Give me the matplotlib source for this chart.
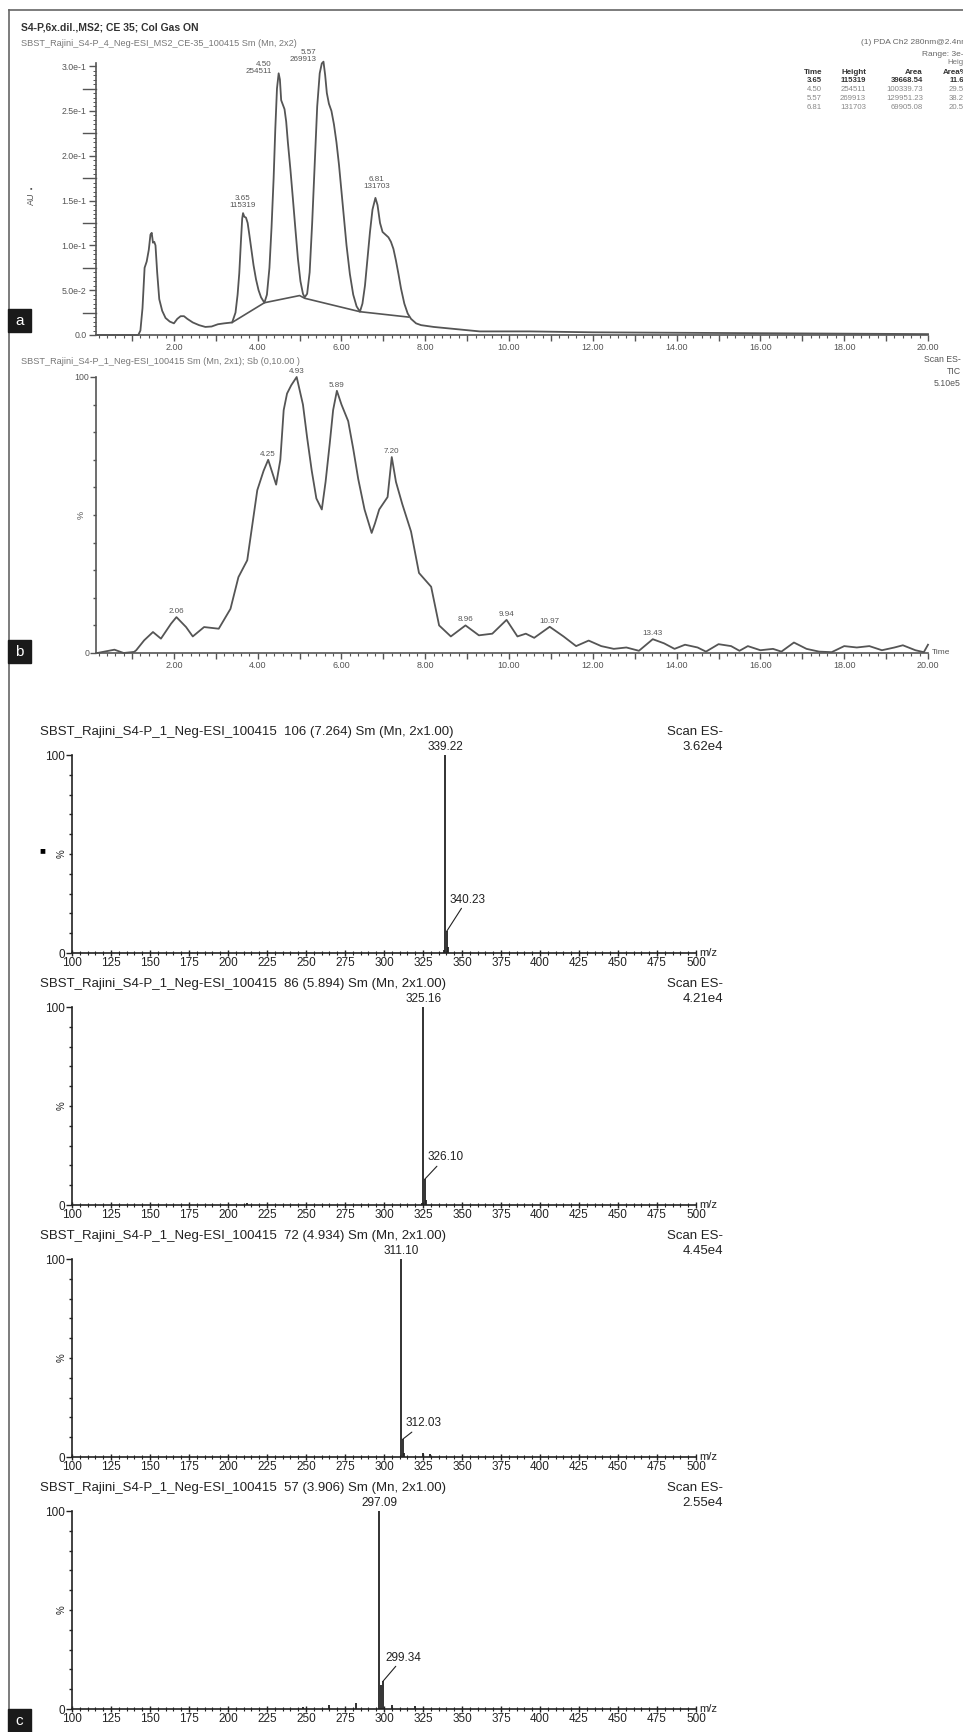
import numpy as np
import matplotlib
matplotlib.use('Agg')
import matplotlib.pyplot as plt
from matplotlib.ticker import MultipleLocator, FixedLocator, FuncFormatter
from matplotlib.patches import Rectangle
from matplotlib.lines import Line2D

plt.rcParams['font.family'] = ['Liberation Sans', 'DejaVu Sans']

# ---------------- data ----------------
# Panel a: PDA chromatogram (AU vs time, min)
time_a = [0.14, 1.15, 1.20, 1.25, 1.30, 1.35, 1.40, 1.44, 1.47, 1.50, 1.53, 1.56, 1.60, 1.65, 1.72,
          1.80, 1.90, 2.00, 2.08, 2.16, 2.24, 2.32, 2.45, 2.60, 2.75, 2.90, 3.05, 3.20, 3.39,
          3.47, 3.52, 3.56, 3.60, 3.63, 3.65, 3.68, 3.72, 3.76, 3.80, 3.85, 3.90, 3.96, 4.02, 4.08,
          4.16, 4.22, 4.28, 4.33, 4.38, 4.42, 4.46, 4.50, 4.53, 4.56, 4.60, 4.64, 4.68, 4.72, 4.78,
          4.84, 4.90, 4.96, 5.02, 5.08, 5.12, 5.18, 5.24, 5.30, 5.36, 5.42, 5.48, 5.53, 5.57, 5.61,
          5.65, 5.70, 5.76, 5.82, 5.88, 5.94, 6.00, 6.06, 6.12, 6.20, 6.28, 6.36, 6.44, 6.50, 6.56,
          6.62, 6.68, 6.74, 6.81, 6.86, 6.92, 6.98, 7.05, 7.12, 7.18, 7.24, 7.30, 7.36, 7.42, 7.50,
          7.58, 7.66, 7.78, 7.90, 8.20, 9.30, 10.5, 12.0, 14.0, 16.0, 18.0, 20.0]
au_a = [0.0, 0.0, 0.005, 0.030, 0.075, 0.082, 0.095, 0.112, 0.114, 0.103, 0.104, 0.100, 0.070, 0.040, 0.027,
        0.019, 0.015, 0.013, 0.018, 0.021, 0.021, 0.018, 0.014, 0.011, 0.009, 0.0095, 0.012, 0.013, 0.014,
        0.025, 0.045, 0.069, 0.105, 0.130, 0.136, 0.132, 0.131, 0.125, 0.112, 0.095, 0.078, 0.062, 0.050, 0.042,
        0.036, 0.045, 0.075, 0.120, 0.175, 0.230, 0.275, 0.292, 0.285, 0.262, 0.257, 0.252, 0.238, 0.215, 0.185,
        0.152, 0.118, 0.085, 0.060, 0.046, 0.042, 0.046, 0.070, 0.125, 0.190, 0.255, 0.292, 0.303, 0.305, 0.290,
        0.270, 0.258, 0.250, 0.235, 0.215, 0.190, 0.160, 0.130, 0.100, 0.068, 0.045, 0.032, 0.026, 0.035, 0.055,
        0.085, 0.115, 0.140, 0.153, 0.145, 0.125, 0.115, 0.112, 0.109, 0.104, 0.096, 0.083, 0.068, 0.052, 0.035,
        0.024, 0.018, 0.013, 0.011, 0.009, 0.004, 0.004, 0.003, 0.0025, 0.002, 0.0015, 0.001]
base_t = [3.39, 4.16, 5.00, 5.12, 6.44, 7.60]
base_au = [0.014, 0.036, 0.044, 0.041, 0.026, 0.020]
peaks_a_time = [3.65, 4.50, 5.57, 6.81]
peaks_a_height = [115319, 254511, 269913, 131703]
peaks_a_area = ['39668.54', '100339.73', '129951.23', '69905.08']
peaks_a_pct = ['11.67', '29.52', '38.24', '20.57']
peaks_a_top = [0.136, 0.292, 0.305, 0.153]

# Panel b: TIC (% vs time)
time_b = [0.17, 0.58, 0.80, 1.05, 1.10, 1.29, 1.50, 1.69, 1.93, 2.06, 2.29, 2.45, 2.72, 3.07,
          3.35, 3.54, 3.75, 3.99, 4.14, 4.25, 4.44, 4.54, 4.62, 4.70, 4.80, 4.93, 5.08, 5.18, 5.29,
          5.40, 5.53, 5.62, 5.72, 5.80, 5.89, 6.00, 6.16, 6.28, 6.40, 6.55, 6.72, 6.80, 6.90, 7.10,
          7.20, 7.30, 7.45, 7.66, 7.85, 8.14, 8.33, 8.61, 8.96,
          9.28, 9.60, 9.94, 10.2, 10.4, 10.6, 10.97, 11.3, 11.6, 11.9, 12.2, 12.5, 12.8, 13.1,
          13.43, 13.7, 13.95, 14.2, 14.5, 14.7, 15.0, 15.3, 15.5, 15.7, 16.0, 16.3, 16.5, 16.8,
          17.1, 17.4, 17.7, 18.0, 18.3, 18.6, 18.9, 19.2, 19.4, 19.7, 19.9, 20.0]
pct_b = [0.0, 1.2, 0.0, 0.4, 1.0, 4.6, 7.6, 5.2, 10.6, 13.0, 9.4, 6.0, 9.4, 8.8,
         16.0, 27.5, 33.6, 59.0, 66.0, 70.0, 61.0, 70.0, 88.0, 94.0, 97.0, 100.0, 90.0, 78.0, 66.0,
         56.0, 52.0, 62.0, 76.0, 88.0, 95.0, 90.0, 84.0, 74.0, 63.0, 52.0, 43.5, 47.0, 52.0, 56.5,
         71.0, 62.0, 54.0, 44.0, 29.0, 24.0, 10.0, 6.0, 10.0,
         6.4, 7.0, 12.0, 6.0, 7.0, 5.5, 9.5, 6.0, 2.5, 4.5, 2.5, 1.5, 2.0, 0.8,
         5.0, 3.5, 1.5, 3.0, 2.0, 0.5, 3.2, 2.5, 0.8, 2.5, 1.0, 1.5, 0.5, 3.8,
         1.5, 0.5, 0.3, 2.5, 2.0, 2.5, 1.0, 2.0, 2.8, 1.0, 0.3, 3.0]
peaks_b_time = [2.06, 4.25, 4.93, 5.89, 7.20, 8.96, 9.94, 10.97, 13.43]
peaks_b_pct = [13.0, 70.0, 100.0, 95.0, 71.0, 10.0, 12.0, 9.5, 5.0]

# Panel c: mass spectra
spec_titles = ['SBST_Rajini_S4-P_1_Neg-ESI_100415  106 (7.264) Sm (Mn, 2x1.00)',
               'SBST_Rajini_S4-P_1_Neg-ESI_100415  86 (5.894) Sm (Mn, 2x1.00)',
               'SBST_Rajini_S4-P_1_Neg-ESI_100415  72 (4.934) Sm (Mn, 2x1.00)',
               'SBST_Rajini_S4-P_1_Neg-ESI_100415  57 (3.906) Sm (Mn, 2x1.00)']
spec_scale = ['3.62e4', '4.21e4', '4.45e4', '2.55e4']
spec1_mz = [339.22, 340.23, 341.20, 338.30]
spec1_int = [100, 11, 3, 1.5]
spec2_mz = [325.16, 326.10, 327.10, 212.00, 324.20]
spec2_int = [100, 13, 2.5, 1.2, 1.0]
spec3_mz = [311.10, 312.03, 313.00, 325.00, 329.50]
spec3_int = [100, 9, 2, 2, 1.5]
spec4_mz = [297.09, 299.34, 298.20, 265.00, 282.00, 305.00, 320.00, 248.00]
spec4_int = [100, 14, 12, 2, 3, 2, 1.5, 1]
spec_base_label = ['339.22', '325.16', '311.10', '297.09']
spec_iso_label = ['340.23', '326.10', '312.03', '299.34']
spec_iso_label_pct = [27, 24, 17, 26]

# ---------------- figure ----------------
W, H = 963, 1732
fig = plt.figure(figsize=(W / 100, H / 100), dpi=100)
GRAY = '#555555'
DARK = '#222222'


def add_ax(l, t, r, b):
    return fig.add_axes([l / W, 1 - b / H, (r - l) / W, (b - t) / H])


def ftext(x, y, s, **kw):
    return fig.text(x / W, 1 - y / H, s, **kw)


def label_box(x, y, s):
    fig.patches.append(Rectangle((x / W, 1 - (y + 23) / H), 23 / W, 23 / H,
                                 transform=fig.transFigure, color='#1a1a1a', zorder=5))
    ftext(x + 11.5, y + 12, s, ha='center', va='center', color='white', fontsize=11, zorder=6)


# outer frame (left + top)
fig.add_artist(Line2D([9 / W, 9 / W], [0, 1 - 10 / H], color='#666666', lw=1.2, transform=fig.transFigure))
fig.add_artist(Line2D([9 / W, 1], [1 - 10 / H, 1 - 10 / H], color='#666666', lw=1.2, transform=fig.transFigure))


def style_time_axis(ax, color):
    for s in ['top', 'right']:
        ax.spines[s].set_visible(False)
    for s in ['left', 'bottom']:
        ax.spines[s].set_color(color)
        ax.spines[s].set_linewidth(1.2)
    ax.set_xlim(0.14, 20.0)
    ax.xaxis.set_major_locator(MultipleLocator(1.0))
    ax.xaxis.set_minor_locator(MultipleLocator(0.2))
    ax.xaxis.set_major_formatter(FuncFormatter(lambda v, p: ('%.2f' % v) if (round(v) % 2 == 0 and v > 1) else ''))
    ax.tick_params(axis='x', which='major', length=4, width=1.0, color=color, labelsize=6.5,
                   labelcolor=GRAY, pad=2)
    ax.tick_params(axis='x', which='minor', length=2, width=0.8, color=color)
    ax.set_facecolor('none')


# ---------------- panel a ----------------
ftext(21, 27, 'S4-P,6x.dil.,MS2; CE 35; Col Gas ON', fontsize=7.5, fontweight='bold', color='#333333', va='center')
ftext(21, 43, 'SBST_Rajini_S4-P_4_Neg-ESI_MS2_CE-35_100415 Sm (Mn, 2x2)', fontsize=6.6, color='#777777', va='center')

ax_a = add_ax(96, 63, 928, 335)
style_time_axis(ax_a, GRAY)
ax_a.set_ylim(0, 0.3035)
ax_a.plot(time_a, au_a, color=GRAY, lw=1.3, clip_on=False)
ax_a.plot(base_t, base_au, color=GRAY, lw=1.2, clip_on=False)
ax_a.yaxis.set_major_locator(FixedLocator([0, 0.05, 0.1, 0.15, 0.2, 0.25, 0.3]))
ax_a.set_yticklabels(['0.0', '5.0e-2', '1.0e-1', '1.5e-1', '2.0e-1', '2.5e-1', '3.0e-1'])
ax_a.yaxis.set_minor_locator(MultipleLocator(0.005))
ax_a.tick_params(axis='y', which='major', length=5, width=1.0, color=GRAY, labelsize=6.3,
                 labelcolor=GRAY, pad=2)
ax_a.tick_params(axis='y', which='minor', length=2, width=0.7, color=GRAY)
for yv in [0.025, 0.075, 0.125, 0.175, 0.225, 0.275]:
    ax_a.plot([-0.18, 0.14], [yv, yv], color=GRAY, lw=1.0, clip_on=False)
ftext(31, 199, 'AU', rotation=90, fontsize=6.5, color=GRAY, ha='center', va='center')
ftext(31, 189, '\u25aa', fontsize=5, color=GRAY, ha='center', va='center')

# peak labels
ax_a.annotate('%.2f\n%d' % (peaks_a_time[0], peaks_a_height[0]), (peaks_a_time[0], peaks_a_top[0]),
              xytext=(0, 3), textcoords='offset points', ha='center', va='bottom',
              fontsize=5.8, color=GRAY, linespacing=1.0, annotation_clip=False)
for i in (1, 2):
    ax_a.annotate('%.2f\n%d' % (peaks_a_time[i], peaks_a_height[i]), (peaks_a_time[i], peaks_a_top[i]),
                  xytext=(-5, -1), textcoords='offset points', ha='right', va='bottom',
                  fontsize=5.8, color=GRAY, linespacing=1.0, annotation_clip=False)
ax_a.annotate('%.2f\n%d' % (peaks_a_time[3], peaks_a_height[3]), (peaks_a_time[3], peaks_a_top[3]),
              xytext=(1, 6), textcoords='offset points', ha='center', va='bottom',
              fontsize=5.8, color=GRAY, linespacing=1.0, annotation_clip=False)

# table at top right
ftext(968, 43, '(1) PDA Ch2 280nm@2.4nm', fontsize=6, color='#666666', ha='right', va='center')
ftext(968, 54, 'Range: 3e-1', fontsize=6, color='#666666', ha='right', va='center')
ftext(970, 63, 'Height', fontsize=5.6, color='#777777', ha='right', va='center')
hdr_y = 72
ftext(822, hdr_y, 'Time', fontsize=5.8, color='#333333', ha='right', va='center', fontweight='bold')
ftext(866, hdr_y, 'Height', fontsize=5.8, color='#333333', ha='right', va='center', fontweight='bold')
ftext(923, hdr_y, 'Area', fontsize=5.8, color='#333333', ha='right', va='center', fontweight='bold')
ftext(968, hdr_y, 'Area%', fontsize=5.8, color='#333333', ha='right', va='center', fontweight='bold')
for i in range(4):
    yy = 81 + 8.8 * i
    col = '#333333' if i == 0 else '#888888'
    fw = 'bold' if i == 0 else 'normal'
    ftext(822, yy, '%.2f' % peaks_a_time[i], fontsize=5.6, color=col, ha='right', va='center', fontweight=fw)
    ftext(866, yy, '%d' % peaks_a_height[i], fontsize=5.6, color=col, ha='right', va='center', fontweight=fw)
    ftext(923, yy, peaks_a_area[i], fontsize=5.6, color=col, ha='right', va='center', fontweight=fw)
    ftext(968, yy, peaks_a_pct[i], fontsize=5.6, color=col, ha='right', va='center', fontweight=fw)

label_box(8, 309, 'a')

# ---------------- panel b ----------------
ftext(21, 362, 'SBST_Rajini_S4-P_1_Neg-ESI_100415 Sm (Mn, 2x1); Sb (0,10.00 )', fontsize=6.6,
      color='#777777', va='center')
ftext(961, 359, 'Scan ES-', fontsize=6.3, color=GRAY, ha='right', va='center')
ftext(961, 371, 'TIC', fontsize=6.3, color=GRAY, ha='right', va='center')
ftext(961, 384, '5.10e5', fontsize=6.3, color=GRAY, ha='right', va='center')

ax_b = add_ax(96, 377, 928, 653)
style_time_axis(ax_b, GRAY)
ax_b.set_ylim(0, 100)
ax_b.plot(time_b, pct_b, color=GRAY, lw=1.3, clip_on=False)
ax_b.yaxis.set_major_locator(FixedLocator([0, 100]))
ax_b.set_yticklabels(['0', '100'])
ax_b.yaxis.set_minor_locator(MultipleLocator(10))
ax_b.tick_params(axis='y', which='major', length=4, width=1.0, color=GRAY, labelsize=6.3,
                 labelcolor=GRAY, pad=1)
ax_b.tick_params(axis='y', which='minor', length=2.5, width=1.0, color=GRAY)
ax_b.text(-0.012, 0.5, '%', transform=ax_b.transAxes, rotation=90, fontsize=6.5, color=GRAY,
          ha='right', va='center')
for t, p in zip(peaks_b_time, peaks_b_pct):
    ax_b.annotate('%.2f' % t, (t, p), xytext=(0, 1.5), textcoords='offset points', ha='center',
                  va='bottom', fontsize=5.8, color=GRAY, annotation_clip=False)
ftext(932, 652, 'Time', fontsize=6, color=GRAY, ha='left', va='center')

label_box(8, 640, 'b')

# ---------------- panel c ----------------
spec_mz = [spec1_mz, spec2_mz, spec3_mz, spec4_mz]
spec_int = [spec1_int, spec2_int, spec3_int, spec4_int]
layout = [(732, 755, 953), (984, 1007, 1205), (1236, 1259, 1457), (1488, 1511, 1709)]
for k in range(4):
    ty, top, bot = layout[k]
    ftext(40, ty, spec_titles[k], fontsize=9.5, color=DARK, va='center')
    ftext(723, ty, 'Scan ES-', fontsize=9.5, color=DARK, ha='right', va='center')
    ftext(723, ty + 15, spec_scale[k], fontsize=9.5, color=DARK, ha='right', va='center')
    ax = add_ax(72, top, 696, bot)
    ax.set_facecolor('none')
    for s in ['top', 'right']:
        ax.spines[s].set_visible(False)
    for s in ['left', 'bottom']:
        ax.spines[s].set_color(DARK)
        ax.spines[s].set_linewidth(1.2)
    ax.set_xlim(100, 500)
    ax.set_ylim(0, 100)
    ax.vlines(spec_mz[k], 0, spec_int[k], color=DARK, lw=1.3)
    ax.xaxis.set_major_locator(MultipleLocator(25))
    ax.xaxis.set_minor_locator(MultipleLocator(5))
    ax.tick_params(axis='x', which='major', direction='inout', length=5, width=1.0, color=DARK,
                   labelsize=8.5, labelcolor=DARK, pad=0.5)
    ax.tick_params(axis='x', which='minor', direction='inout', length=3, width=0.8, color=DARK)
    ax.yaxis.set_major_locator(FixedLocator([0, 100]))
    ax.set_yticklabels(['0', '100'])
    ax.yaxis.set_minor_locator(MultipleLocator(10))
    ax.tick_params(axis='y', which='major', length=4, width=1.0, color=DARK, labelsize=8.5,
                   labelcolor=DARK, pad=1)
    ax.tick_params(axis='y', which='minor', length=2.5, width=1.0, color=DARK)
    ax.text(-0.008, 0.5, '%', transform=ax.transAxes, rotation=90, fontsize=7, color=DARK,
            ha='right', va='center')
    ax.text(1.005, 0.0, 'm/z', transform=ax.transAxes, fontsize=8, color=DARK, ha='left', va='center')
    # base peak label
    ax.annotate(spec_base_label[k], (spec_mz[k][0], 100), xytext=(0, 1.5), textcoords='offset points',
                ha='center', va='bottom', fontsize=8.5, color=DARK, annotation_clip=False)
    # isotope label with connector
    ax.annotate(spec_iso_label[k], (spec_mz[k][1], spec_int[k][1]),
                xytext=(spec_mz[k][1] + 1.5, spec_iso_label_pct[k]), textcoords='data',
                ha='left', va='center', fontsize=8.5, color=DARK,
                arrowprops=dict(arrowstyle='-', color=DARK, lw=0.8, shrinkA=0, shrinkB=0))

ftext(42, 850, '\u25a0', fontsize=7, color='black', ha='center', va='center')
label_box(8, 1709, 'c')

fig.savefig('out.png', dpi=100)
